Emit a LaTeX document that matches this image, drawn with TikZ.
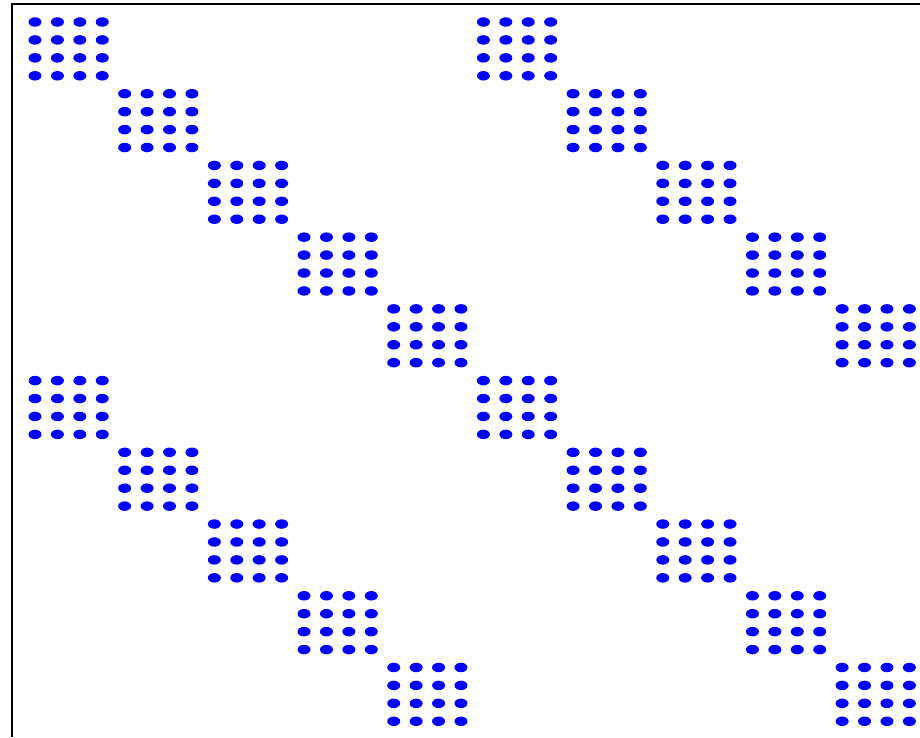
\documentclass[tikz,border=0pt]{standalone}
\usetikzlibrary{shapes}

\begin{document}
\begin{tikzpicture}[x=1pt,y=-1pt]
\tikzstyle{every node}=[fill=blue, shape=ellipse, minimum width=13pt, minimum height=9.5pt, inner sep=0pt];

\useasboundingbox (0,0) rectangle (920,737);

% frame (right and bottom sides fall outside)
\draw[line width=2pt] (12,737) -- (12,4) -- (920,4);

% 4x4 blocks: two block diagonals in each half
\foreach \b in {0,...,9} {
  \foreach \i in {0,...,3} {
    \foreach \j in {0,...,3} {
      \pgfmathtruncatemacro{\r}{4*\b+\i}
      \pgfmathtruncatemacro{\c}{4*mod(\b,5)+\j}
      \pgfmathtruncatemacro{\cc}{\c+20}
      \draw (35+22.42*\c, 22+17.93*\r) node (d-\r-\c) {};
      \draw (35+22.42*\cc, 22+17.93*\r) node (d-\r-\cc) {};
    }
  }
}

\end{tikzpicture}
\end{document}
